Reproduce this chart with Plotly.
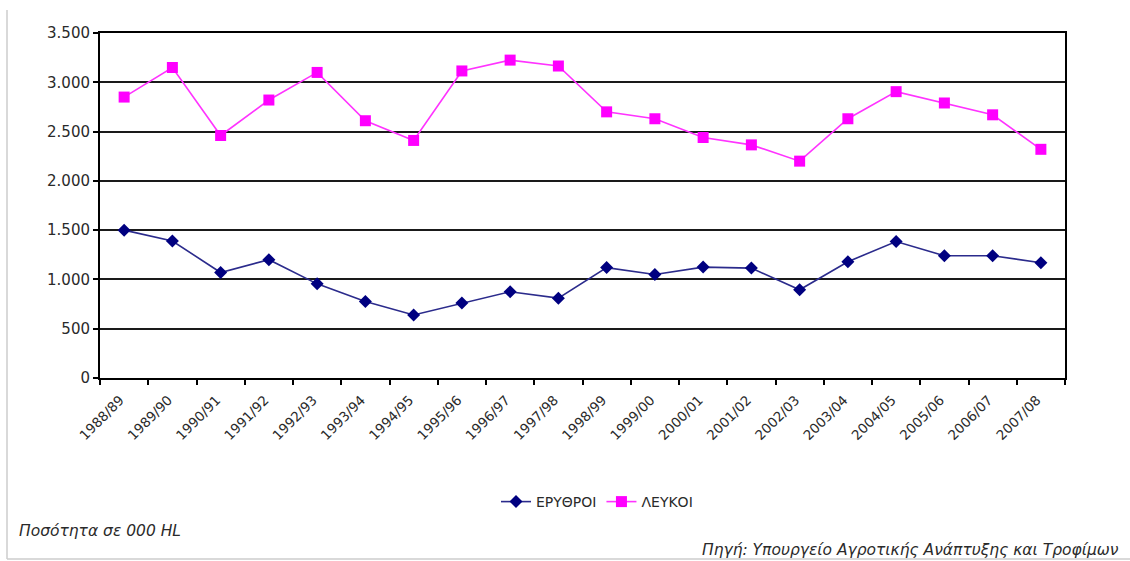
import plotly.graph_objects as go

# Wine production by type, thousand hectolitres, per marketing year
seasons = [
    "1988/89", "1989/90", "1990/91", "1991/92", "1992/93", "1993/94", "1994/95",
    "1995/96", "1996/97", "1997/98", "1998/99", "1999/00", "2000/01", "2001/02",
    "2002/03", "2003/04", "2004/05", "2005/06", "2006/07", "2007/08",
]
red_wine = [
    1500, 1390, 1070, 1200, 955, 775, 640, 760, 875, 810,
    1120, 1050, 1125, 1115, 895, 1180, 1385, 1240, 1240, 1170,
]
white_wine = [
    2850, 3150, 2460, 2820, 3100, 2610, 2410, 3115, 3225, 3165,
    2700, 2630, 2440, 2365, 2200, 2630, 2905, 2790, 2670, 2320,
]
y_ticks = [0, 500, 1000, 1500, 2000, 2500, 3000, 3500]

W, H = 1130, 561
L, R, T, B = 100, 65, 33, 183
PW, PH = W - L - R, H - T - B


def px(x):
    return (x - L) / PW


def py(y):
    return (H - B - y) / PH


FONT = "DejaVu Sans"
TXT = "#2a2a2a"

fig = go.Figure()
fig.add_trace(go.Scatter(
    x=seasons, y=red_wine, name="ΕΡΥΘΡΟΙ", mode="lines+markers",
    line=dict(color="#2b2b8c", width=1.6),
    marker=dict(symbol="diamond", size=10, color="#000080"),
))
fig.add_trace(go.Scatter(
    x=seasons, y=white_wine, name="ΛΕΥΚΟΙ", mode="lines+markers",
    line=dict(color="#ff33ff", width=1.6),
    marker=dict(symbol="square", size=11, color="#ff00ff"),
))

fig.update_layout(
    width=W, height=H,
    margin=dict(l=L, r=R, t=T, b=B, pad=0),
    paper_bgcolor="white", plot_bgcolor="white",
    separators=",.",
    font=dict(family=FONT, size=12, color=TXT),
    showlegend=True,
    legend=dict(
        orientation="h", x=px(597), y=py(502), xanchor="center", yanchor="middle",
        font=dict(family=FONT, size=14, color=TXT), itemwidth=30,
        bgcolor="rgba(0,0,0,0)",
    ),
    xaxis=dict(
        type="category", range=[-0.5, len(seasons) - 0.5],
        tickson="boundaries", ticks="outside", ticklen=5,
        tickcolor="black", tickwidth=1.5, tickangle=-45,
        ticklabelstandoff=7, ticklabelshift=-4,
        showline=True, linecolor="black", linewidth=2, mirror=True,
        showgrid=False, zeroline=False,
        tickfont=dict(family=FONT, size=13.5, color=TXT),
    ),
    yaxis=dict(
        range=[0, 3500], tickvals=y_ticks, tickformat=",d",
        ticks="outside", ticklen=5, tickcolor="black", tickwidth=1.5,
        showline=True, linecolor="black", linewidth=2, mirror=True,
        showgrid=True, gridcolor="#1a1a1a", gridwidth=1.6, zeroline=False,
        tickfont=dict(family=FONT, size=15, color=TXT),
    ),
    shapes=[
        # outer frame lines of the chart box
        dict(type="line", xref="paper", yref="paper", x0=px(7), x1=px(7),
             y0=py(10), y1=py(559), line=dict(color="#cccccc", width=1.5)),
        dict(type="line", xref="paper", yref="paper", x0=px(7), x1=px(W),
             y0=py(559), y1=py(559), line=dict(color="#cccccc", width=1.5)),
    ],
    annotations=[
        dict(text="<i>Ποσότητα σε 000 HL</i>", xref="paper", yref="paper",
             x=px(17), y=py(531), xanchor="left", yanchor="middle",
             showarrow=False, font=dict(family=FONT, size=15.5, color=TXT)),
        dict(text="<i>Πηγή: Υπουργείο Αγροτικής Ανάπτυξης και Τροφίμων</i>",
             xref="paper", yref="paper", x=px(1121), y=py(550),
             xanchor="right", yanchor="middle", showarrow=False,
             font=dict(family=FONT, size=15.5, color=TXT)),
    ],
)

fig.write_html("out.html")
